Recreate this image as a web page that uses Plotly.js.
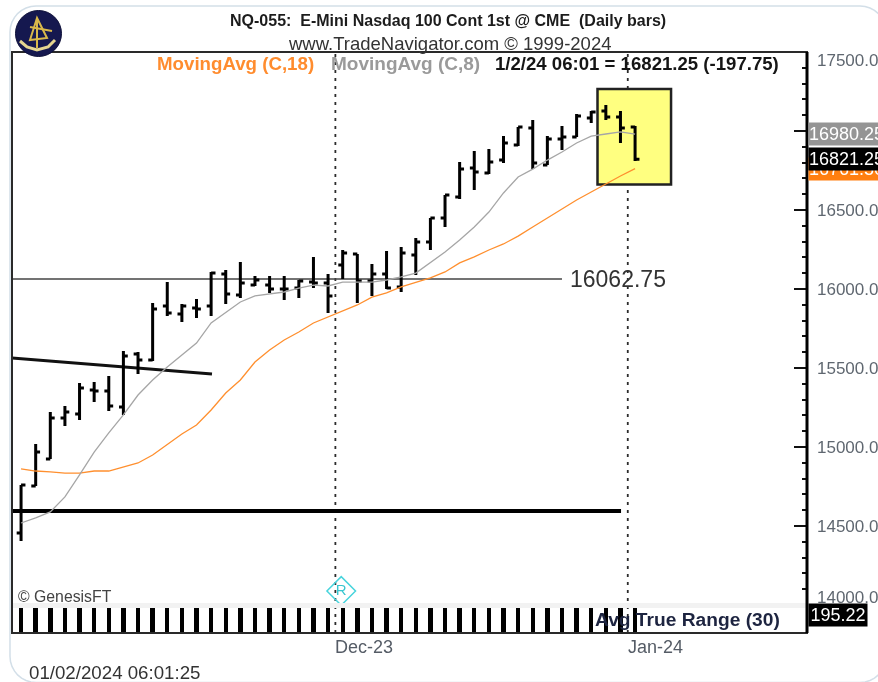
<!DOCTYPE html>
<html>
<head>
<meta charset="utf-8">
<script src="https://cdn.plot.ly/plotly-3.0.0.min.js"></script>
<style>html,body{margin:0;padding:0;background:#fff;overflow:hidden}#chart{width:878px;height:682px;filter:blur(0.4px)}</style>
</head>
<body>
<div id="chart"></div>
<script>
var opens  = [14456,14753,14924,15184,15209,15361,15354,15253,15589,15551,15892,15842,15880,15892,16095,15962,16025,16025,16000,16006,16044,16038,16152,16222,16051,16095,16013,16215,16297,16449,16582,16766,16734,16816,16911,17019,16785,16949,16962,17082,17127,17089,17025];
var highs  = [14760,15019,15222,15260,15405,15411,15449,15608,15601,15911,16044,15905,15937,16108,16120,16171,16082,16082,16082,16057,16203,16095,16247,16222,16158,16241,16266,16323,16449,16595,16804,16873,16886,16968,17025,17070,16968,17032,17108,17127,17165,17127,17032];
var lows   = [14405,14753,14924,15133,15171,15285,15228,15203,15462,15544,15829,15791,15816,15829,15905,15943,16019,15975,15930,15943,16006,15848,16063,15911,15956,16000,15981,16089,16247,16392,16570,16627,16728,16797,16905,16759,16785,16880,16962,17051,17070,16924,16810];
var closes = [14760,14968,15184,15222,15373,15354,15260,15576,15551,15873,15848,15892,15873,16101,15968,16038,16057,16000,16000,16051,16038,15956,16228,16051,16095,16006,16228,16297,16449,16595,16759,16741,16804,16924,17025,16797,16949,16962,17095,17120,17089,17019,16821.25];
var ma8    = [14519,14551,14589,14684,14823,14968,15089,15203,15329,15424,15506,15582,15658,15785,15854,15918,15956,15968,15981,16006,16025,16019,16044,16044,16044,16057,16076,16101,16165,16234,16310,16392,16487,16608,16709,16759,16816,16867,16924,16968,16981,16994,16980.25];
var ma18   = [14861,14848,14842,14835,14835,14848,14848,14873,14899,14949,15013,15082,15139,15234,15342,15424,15538,15614,15677,15728,15785,15823,15861,15899,15949,15975,16013,16044,16070,16108,16165,16203,16247,16285,16335,16392,16449,16506,16563,16614,16665,16715,16761.5];
var atr    = [205,204,206,208,207,205,204,206,207,205,204,203,202,204,203,201,200,199,198,197,199,201,202,203,201,200,199,198,197,198,199,198,197,196,197,199,198,197,196,195,195,195,195.22];
var barIndex = opens.map(function(_, i){ return i; });
var priceTickVals = [14000,14500,15000,15500,16000,16500,17000,17500];
var priceTickText = ['','14500.00','15000.00','15500.00','16000.00','16500.00','',''];
var resistance = 16062.75, supportLevel = 14595;
var trendPrices = [15563,15462];
var monthBreaks = [21.5,41.5];
var monthLabels = ['Dec-23','Jan-24'];

var W=878,H=682,L=12,R=807,T=52,B=633,MB=605,AT=608;
function px(x){return (x-L)/(R-L);}
function py(y){return (B-y)/(B-T);}
var font='"Liberation Sans", Arial, sans-serif';
function P(pts,close){return pts.map(function(p,i){return (i?'L':'M')+px(p[0]).toFixed(5)+' '+py(p[1]).toFixed(5);}).join(' ')+(close?' Z':'');}
function rectP(x0,y0,x1,y1,o){return Object.assign({type:'rect',xref:'paper',yref:'paper',x0:px(x0),x1:px(x1),y0:py(y0),y1:py(y1),line:{width:0}},o);}
function pathP(d,o){return Object.assign({type:'path',xref:'paper',yref:'paper',path:d},o);}
function cardPath(){
  var x0=10,y0=6,x1=886,y1=682.5,r=26,pts=[],i,a;
  function arc(cx,cy,s){for(i=0;i<=8;i++){a=s+i*Math.PI/16;pts.push([cx+r*Math.cos(a),cy+r*Math.sin(a)]);}}
  arc(x1-r,y0+r,-Math.PI/2);arc(x1-r,y1-r,0);arc(x0+r,y1-r,Math.PI/2);arc(x0+r,y0+r,Math.PI);
  return P(pts,true);
}
function circleP(cx,cy,r,o){return Object.assign({type:'circle',xref:'paper',yref:'paper',x0:px(cx-r),x1:px(cx+r),y0:py(cy+r),y1:py(cy-r)},o);}
function txt(text,x,y,size,color,o){return Object.assign({text:text,xref:'paper',yref:'paper',x:px(x),y:py(y),xanchor:'left',yanchor:'middle',showarrow:false,font:{family:font,size:size,color:color}},o||{});}

var gold={color:'#d9b84a',width:2};
var shapes=[
  pathP(cardPath(),{line:{color:'#d3dfe8',width:1.5},layer:'below'}),
  {type:'line',xref:'x',yref:'paper',x0:monthBreaks[0],x1:monthBreaks[0],y0:0,y1:1,layer:'below',line:{color:'#2c2c2c',width:1.8,dash:'3px,5px'}},
  {type:'line',xref:'x',yref:'paper',x0:monthBreaks[1],x1:monthBreaks[1],y0:0,y1:1,layer:'below',line:{color:'#2c2c2c',width:1.8,dash:'3px,5px'}},
  {type:'rect',xref:'x',yref:'y',x0:39.43,x1:44.46,y0:16661,y1:17266,layer:'below',fillcolor:'#ffff80',line:{color:'#222',width:2.5}},
  {type:'line',xref:'x',yref:'y',x0:-0.62,x1:37.0,y0:resistance,y1:resistance,layer:'below',line:{color:'#444',width:1.5}},
  {type:'line',xref:'x',yref:'y',x0:-0.62,x1:41.04,y0:supportLevel,y1:supportLevel,layer:'below',line:{color:'#000',width:4}},
  {type:'line',xref:'x',yref:'y',x0:-0.62,x1:13.06,y0:trendPrices[0],y1:trendPrices[1],layer:'below',line:{color:'#111',width:3}},
  rectP(L,603,R,608,{fillcolor:'#f2f2f2',layer:'above'}),
  rectP(L,T,R,B,{line:{color:'#2a2a2a',width:2},layer:'above'}),
  {type:'line',xref:'paper',yref:'paper',x0:1,x1:1,y0:0,y1:1,layer:'above',line:{color:'#000',width:3}},
  circleP(38.5,33.5,23,{fillcolor:'#15184f',line:{color:'#0d0f38',width:1},layer:'above'}),
  pathP(P([[37,18],[30,40],[47,38]],true),{line:gold,layer:'above'}),
  pathP(P([[37,18],[37,48]]),{line:gold,layer:'above'}),
  pathP(P([[20,41],[27,47],[37,50],[48,47],[55,40]]),{line:{color:'#e6d690',width:3},layer:'above'}),
  pathP(P([[30,27],[52,31]]),{line:gold,layer:'above'})
];
var annotations=[
  txt('<b>NQ-055:  E-Mini Nasdaq 100 Cont 1st @ CME  (Daily bars)</b>',448,20.5,16,'#1c1c1c',{xanchor:'center'}),
  txt('www.TradeNavigator.com © 1999-2024',449,43.5,18.5,'#333',{xanchor:'center'}),
  txt('<b>MovingAvg (C,18)</b>',155,63,18.7,'#ff8c2e'),
  txt('<b>MovingAvg (C,8)</b>',329,63,19,'#9a9a9a'),
  txt('<b>1/2/24 06:01 = 16821.25 (-197.75)</b>',493,63,18.6,'#151515'),
  txt('16062.75',568,279,23,'#333'),
  txt('© GenesisFT',16,596,15.8,'#444'),
  txt('<b>Avg True Range (30)</b>',593,619,19.2,'#1d2440'),
  txt('01/02/2024 06:01:25',27,672,18.7,'#333'),
  txt('17500.00',815,60,17,'#5f6770'),
  txt('14000.00',815,597,17,'#5f6770'),
  {text:monthLabels[0],xref:'x',yref:'paper',x:monthBreaks[0],y:py(647),xanchor:'left',yanchor:'middle',xshift:-2,showarrow:false,font:{family:font,size:18,color:'#555c66'}},
  {text:monthLabels[1],xref:'x',yref:'paper',x:monthBreaks[1],y:py(647),xanchor:'left',yanchor:'middle',xshift:-2,showarrow:false,font:{family:font,size:18,color:'#555c66'}}
];
function priceTag(v,label,bg){
  return {text:label,xref:'paper',yref:'y',x:1,y:v,xanchor:'left',yanchor:'middle',xshift:1,showarrow:false,align:'left',
    width:74,height:22,bgcolor:bg,borderpad:0,font:{family:font,size:18,color:'#fff'}};
}
annotations.push(priceTag(ma8[42],'16980.25','#959595'));
annotations.push(priceTag(ma18[42],'16761.50','#ff7f10'));
annotations.push(priceTag(closes[42],'16821.25','#000'));
annotations.push({text:'195.22',xref:'paper',yref:'paper',x:1,y:py(614.5),xanchor:'left',yanchor:'middle',xshift:1,showarrow:false,
  width:58,height:22,bgcolor:'#000',borderpad:0,font:{family:font,size:18,color:'#fff'}});

var traces=[
  {type:'scatter',mode:'lines',x:barIndex,y:ma18,line:{color:'#ff8f2e',width:1.3},hoverinfo:'skip'},
  {type:'scatter',mode:'lines',x:barIndex,y:ma8,line:{color:'#a6a6a6',width:1.3},hoverinfo:'skip'},
  {type:'ohlc',x:barIndex,open:opens,high:highs,low:lows,close:closes,tickwidth:0.3,
   increasing:{line:{color:'#000',width:3}},decreasing:{line:{color:'#000',width:3}},hoverinfo:'skip'},
  {type:'bar',x:barIndex,y:atr,yaxis:'y2',width:0.3,marker:{color:'#000',line:{width:0}},hoverinfo:'skip'},
  {type:'scatter',mode:'markers+text',x:[21.9],y:[14089],text:['R'],textposition:'middle center',
   textfont:{family:font,size:15,color:'#38c6d0'},
   marker:{symbol:'diamond-open',size:22,color:'#48d4dc',line:{color:'#48d4dc',width:1.5}},hoverinfo:'skip'}
];
var layout={
  width:W,height:H,showlegend:false,paper_bgcolor:'#fff',plot_bgcolor:'#fff',
  margin:{l:L,r:W-R,t:T,b:H-B,pad:0},
  xaxis:{range:[-0.62,53.76],showgrid:false,zeroline:false,showticklabels:false,ticks:'',showline:false,rangeslider:{visible:false},fixedrange:true},
  yaxis:{domain:[py(MB),1],range:[14000,17500],side:'right',showgrid:false,zeroline:false,showline:false,
    tickmode:'array',tickvals:priceTickVals,ticktext:priceTickText,ticks:'inside',ticklen:13,tickwidth:2,tickcolor:'#111',
    ticklabelstandoff:9,tickfont:{family:font,size:17,color:'#5f6770'},
    minor:{dtick:100,ticks:'inside',ticklen:5,tickwidth:2,tickcolor:'#111',showgrid:false},fixedrange:true},
  yaxis2:{domain:[0,py(AT)],range:[0,190],showgrid:false,zeroline:false,showticklabels:false,ticks:'',showline:false,fixedrange:true},
  shapes:shapes,annotations:annotations,bargap:0
};
Plotly.newPlot('chart',traces,layout,{displayModeBar:false,staticPlot:true});
</script>
</body>
</html>
